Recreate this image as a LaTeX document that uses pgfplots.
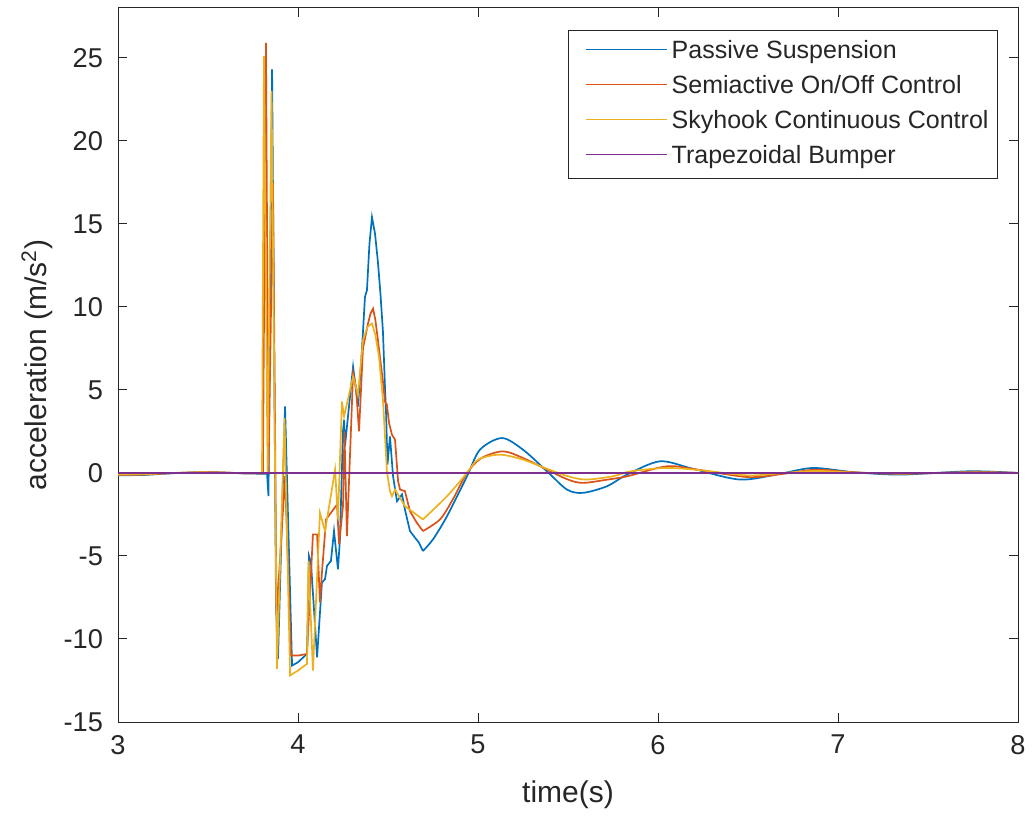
\documentclass[border=0pt]{standalone}
\usepackage{fontspec}
\setmainfont{Liberation Sans}
\usepackage{pgfplots}
\pgfplotsset{compat=1.18}

\definecolor{mblue}{rgb}{0,0.447,0.741}
\definecolor{morange}{rgb}{0.85,0.325,0.098}
\definecolor{myellow}{rgb}{0.929,0.694,0.125}
\definecolor{mpurple}{rgb}{0.494,0.184,0.556}
\definecolor{axisgray}{rgb}{0.15,0.15,0.15}

% Passive suspension: impact part (sharp) and decay (smooth)
\pgfplotstableread{
x y
3.000 -0.15
3.150 -0.12
3.300 -0.02
3.450 0.05
3.550 0.04
3.700 -0.03
3.800 -0.05
3.828 -0.05
3.836 -1.4
3.856 24.3
3.878 -8.0
3.889 -11.2
3.928 4.0
3.967 -11.6
4.000 -11.4
4.050 -10.9
4.061 -5.0
4.072 -5.4
4.106 -11.1
4.133 -6.6
4.150 -6.4
4.161 -5.6
4.183 -5.3
4.200 -3.5
4.222 -5.8
4.233 -4.0
4.250 2.5
4.256 3.2
4.261 1.6
4.272 2.8
4.306 6.4
4.333 4.0
4.350 6.5
4.361 8.5
4.372 10.6
4.383 11.0
4.397 13.8
4.411 15.4
4.428 14.4
4.444 12.7
4.458 10.8
4.472 8.5
4.483 5.2
4.490 3.4
4.497 0.5
4.511 2.2
4.528 -0.2
4.550 -1.7
4.578 -1.3
4.594 -2.2
4.622 -3.5
4.650 -3.9
4.672 -4.2
4.694 -4.7
}\passiveA
\pgfplotstableread{
x y
4.694 -4.7
4.750 -4.0
4.828 -2.6
4.939 -0.2
5.011 1.4
5.133 2.1
5.250 1.4
5.383 0.1
5.494 -1.0
5.583 -1.2
5.717 -0.8
5.828 -0.1
6.011 0.7
6.194 0.25
6.456 -0.4
6.678 -0.05
6.861 0.3
7.083 0.05
7.344 -0.1
7.733 0.1
8.000 0.0
}\passiveB

% Semiactive on/off control
\pgfplotstableread{
x y
3.000 -0.12
3.150 -0.10
3.300 -0.01
3.450 0.04
3.550 0.04
3.700 -0.02
3.805 -0.03
3.822 25.9
3.836 0.0
3.861 17.5
3.881 -8.6
3.928 -0.2
3.961 -11.0
4.000 -11.0
4.050 -10.9
4.083 -3.7
4.106 -3.7
4.122 -7.8
4.133 -6.0
4.156 -2.8
4.183 -2.4
4.217 -1.9
4.228 -4.3
4.250 -2.0
4.258 2.5
4.272 -3.8
4.306 6.0
4.322 5.2
4.339 2.5
4.361 7.5
4.389 9.0
4.403 9.6
4.417 9.9
4.430 9.2
4.444 8.0
4.472 5.5
4.483 4.3
4.494 4.1
4.506 3.0
4.522 2.3
4.539 2.0
4.556 -0.5
4.567 -1.0
4.594 -1.1
4.622 -2.3
4.660 -3.0
4.694 -3.5
}\semiA
\pgfplotstableread{
x y
4.694 -3.5
4.789 -2.8
4.860 -1.6
4.939 0.0
5.020 0.9
5.139 1.3
5.250 0.9
5.383 0.2
5.500 -0.4
5.583 -0.6
5.720 -0.4
5.830 -0.2
6.050 0.4
6.220 0.2
6.500 -0.25
6.700 -0.05
6.880 0.2
7.100 0.03
7.360 -0.05
7.750 0.05
8.000 0.0
}\semiB

% Skyhook continuous control
\pgfplotstableread{
x y
3.000 -0.10
3.150 -0.08
3.300 0.00
3.450 0.04
3.550 0.03
3.700 -0.02
3.797 -0.02
3.800 0.0
3.811 25.1
3.831 0.0
3.853 23.0
3.883 -11.8
3.925 3.3
3.956 -12.2
4.000 -11.9
4.050 -11.5
4.058 -5.3
4.083 -11.9
4.122 -2.4
4.150 -3.5
4.167 -2.4
4.206 0.2
4.222 -2.8
4.244 4.3
4.256 3.4
4.306 5.8
4.333 4.7
4.361 8.0
4.386 8.8
4.411 9.0
4.430 8.3
4.450 7.0
4.472 4.4
4.494 0.1
4.511 -1.1
4.522 -1.4
4.539 -1.0
4.556 -1.3
4.594 -2.0
4.694 -2.8
}\skyA
\pgfplotstableread{
x y
4.694 -2.8
4.828 -1.4
4.939 0.0
5.000 0.8
5.120 1.1
5.250 0.8
5.383 0.25
5.500 -0.2
5.600 -0.4
5.750 -0.2
5.850 0.1
6.050 0.3
6.250 0.15
6.500 -0.15
6.700 0.0
6.880 0.12
7.100 0.02
7.360 -0.03
7.750 0.03
8.000 0.0
}\skyB

\begin{document}
\begin{tikzpicture}
\begin{axis}[
  scale only axis,
  width=450pt, height=357pt,
  xmin=3, xmax=8, ymin=-15, ymax=28,
  xtick={3,4,5,6,7,8},
  ytick={-15,-10,-5,0,5,10,15,20,25},
  tick align=inside,
  major tick length=4.5pt,
  axis line style={draw=axisgray, line width=0.5pt},
  tick style={draw=axisgray, line width=0.5pt},
  /pgf/number format/assume math mode=true,
  ticklabel style={font=\fontsize{13.6}{16}\selectfont, text=axisgray},
  xticklabel style={yshift=-3pt},
  yticklabel style={xshift=-4pt},
  xlabel={time(s)},
  ylabel={acceleration (m/s\textsuperscript{2})},
  label style={font=\fontsize{15}{18}\selectfont, text=axisgray},
  xlabel style={at={(axis description cs:0.5,-0.102)}, anchor=center},
  ylabel style={at={(axis description cs:-0.09,0.5)}, anchor=center},
  every axis plot/.append style={line width=0.85pt},
  legend cell align=left,
  legend image code/.code={%
    \path (0pt,0pt) (45.5pt,0pt);
    \draw[#1] (5pt,1.3pt) -- (45.5pt,1.3pt);},
  legend style={
    at={(rel axis cs:0.9778,0.9692)}, anchor=north east,
    draw=axisgray, line width=0.5pt,
    font=\fontsize{12.5}{15}\selectfont, text=axisgray,
    inner xsep=3pt, inner ysep=3pt,
    nodes={inner sep=1.5pt, text height=9.5pt, text depth=3pt},
    /tikz/column sep=0.5pt,
    row sep=2pt,
  },
]
\addplot[mblue] table {\passiveA};
\addlegendentry{Passive Suspension}
\addplot[morange] table {\semiA};
\addlegendentry{Semiactive On/Off Control}
\addplot[myellow] table {\skyA};
\addlegendentry{Skyhook Continuous Control}
\addplot[mpurple] coordinates {(3,0) (8,0)};
\addlegendentry{Trapezoidal Bumper}
\addplot[mblue, smooth, forget plot] table {\passiveB};
\addplot[morange, smooth, forget plot] table {\semiB};
\addplot[myellow, smooth, forget plot] table {\skyB};
\addplot[mpurple, forget plot] coordinates {(3,0) (8,0)};
\end{axis}
\path ([xshift=-59pt,yshift=-45.5pt]current axis.south west)
      ([xshift=8.5pt,yshift=4pt]current axis.north east);
\end{tikzpicture}
\end{document}
